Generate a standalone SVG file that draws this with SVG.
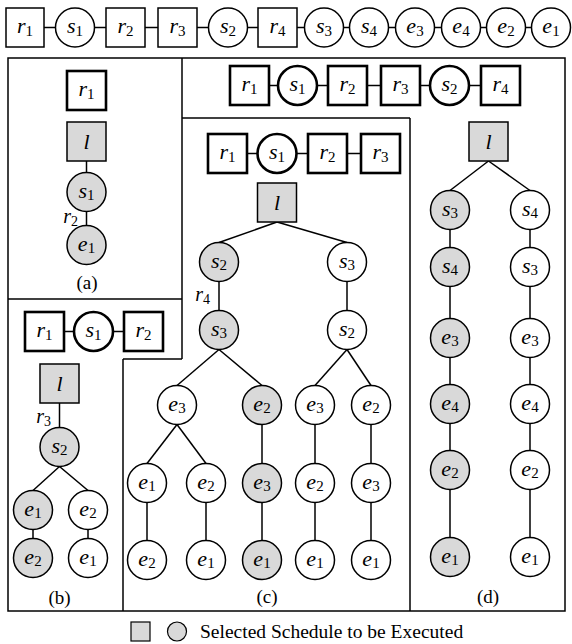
<svg xmlns="http://www.w3.org/2000/svg" width="572" height="644" viewBox="0 0 572 644">
<style>
.n{fill:#fff;stroke:#000;stroke-width:1.5}
.b{stroke-width:2.6}
.g{fill:#d9d9d9}
.t{font-family:'Liberation Serif','Times New Roman','DejaVu Serif',serif;font-size:22px;font-style:italic;text-anchor:middle}
.s{font-size:15px;font-style:normal}
.el{font-family:'Liberation Serif','Times New Roman','DejaVu Serif',serif;font-size:20px;font-style:italic;text-anchor:end}
.es{font-size:14px;font-style:normal}
.cap{font-family:'Liberation Serif','Times New Roman','DejaVu Serif',serif;font-size:19px;text-anchor:middle}
.leg{font-family:'Liberation Serif','Times New Roman','DejaVu Serif',serif;font-size:19.5px}
.c line,.f line,.f rect{stroke:#000;stroke-width:1.5;fill:none}
</style>
<rect width="572" height="644" fill="#fff"/>
<g id="frames" class="f">
<rect x="8" y="58" width="557" height="553"/>
<line x1="182" y1="58" x2="182" y2="359"/>
<line x1="8" y1="299" x2="182" y2="299"/>
<line x1="123" y1="359" x2="182" y2="359"/>
<line x1="123" y1="359" x2="123" y2="611"/>
<line x1="182" y1="118" x2="410" y2="118"/>
<line x1="410" y1="118" x2="410" y2="611"/>
</g>
<g id="connectors" class="c">
<line x1="44" y1="27.5" x2="55.5" y2="27.5"/><line x1="94.5" y1="27.5" x2="106" y2="27.5"/><line x1="145" y1="27.5" x2="158" y2="27.5"/><line x1="197" y1="27.5" x2="208.5" y2="27.5"/><line x1="247.5" y1="27.5" x2="258" y2="27.5"/><line x1="297" y1="27.5" x2="304.5" y2="27.5"/><line x1="343.5" y1="27.5" x2="349.5" y2="27.5"/><line x1="388.5" y1="27.5" x2="395.5" y2="27.5"/><line x1="434.5" y1="27.5" x2="441.5" y2="27.5"/><line x1="480.5" y1="27.5" x2="486.5" y2="27.5"/><line x1="525.5" y1="27.5" x2="531.5" y2="27.5"/>
<line x1="86.5" y1="161" x2="86.5" y2="172.5"/><line x1="86.5" y1="211.5" x2="86.5" y2="225.5"/>
<line x1="64" y1="331.5" x2="74" y2="331.5"/><line x1="113" y1="331.5" x2="124" y2="331.5"/>
<line x1="59.5" y1="403" x2="59.5" y2="427.5"/>
<line x1="59.5" y1="466.5" x2="33" y2="490.5"/><line x1="59.5" y1="466.5" x2="88" y2="490.5"/>
<line x1="33" y1="529.5" x2="33" y2="538.5"/><line x1="88" y1="529.5" x2="88" y2="538.5"/>
<line x1="247" y1="153.5" x2="257.5" y2="153.5"/><line x1="296.5" y1="153.5" x2="308" y2="153.5"/><line x1="347" y1="153.5" x2="361" y2="153.5"/>
<line x1="277" y1="222" x2="219" y2="242.5"/><line x1="277" y1="222" x2="347" y2="242.5"/>
<line x1="219" y1="281.5" x2="219" y2="310.5"/><line x1="347" y1="281.5" x2="347" y2="310.5"/>
<line x1="219" y1="349.5" x2="177" y2="385.5"/><line x1="219" y1="349.5" x2="262" y2="385.5"/><line x1="347" y1="349.5" x2="315" y2="385.5"/><line x1="347" y1="349.5" x2="371" y2="385.5"/>
<line x1="177" y1="424.5" x2="147" y2="463.5"/><line x1="177" y1="424.5" x2="206" y2="463.5"/><line x1="262" y1="424.5" x2="262" y2="463.5"/><line x1="315" y1="424.5" x2="315" y2="463.5"/><line x1="371" y1="424.5" x2="371" y2="463.5"/>
<line x1="147" y1="502.5" x2="147" y2="540.5"/><line x1="206" y1="502.5" x2="206" y2="540.5"/><line x1="262" y1="502.5" x2="262" y2="540.5"/><line x1="315" y1="502.5" x2="315" y2="540.5"/><line x1="371" y1="502.5" x2="371" y2="540.5"/>
<line x1="269" y1="85.5" x2="278" y2="85.5"/><line x1="317" y1="85.5" x2="328" y2="85.5"/><line x1="367" y1="85.5" x2="381" y2="85.5"/><line x1="420" y1="85.5" x2="430" y2="85.5"/><line x1="469" y1="85.5" x2="481" y2="85.5"/>
<line x1="488.5" y1="161" x2="450" y2="190.5"/><line x1="488.5" y1="161" x2="530" y2="190.5"/>
<line x1="450" y1="229.5" x2="450" y2="247.5"/><line x1="450" y1="286.5" x2="450" y2="318.5"/><line x1="450" y1="357.5" x2="450" y2="384.5"/><line x1="450" y1="423.5" x2="450" y2="450.5"/><line x1="450" y1="489.5" x2="450" y2="537.5"/>
<line x1="530" y1="229.5" x2="530" y2="247.5"/><line x1="530" y1="286.5" x2="530" y2="318.5"/><line x1="530" y1="357.5" x2="530" y2="384.5"/><line x1="530" y1="423.5" x2="530" y2="450.5"/><line x1="530" y1="489.5" x2="530" y2="537.5"/>
</g>
<g id="top-row">
<g id="t_r1"><rect class="n" x="6" y="8" width="38" height="39"/><text class="t" x="25" y="33">r<tspan class="s" dy="2.5">1</tspan></text></g>
<g id="t_s1"><circle class="n" cx="75" cy="27.5" r="19.5"/><text class="t" x="75" y="33">s<tspan class="s" dy="2.5">1</tspan></text></g>
<g id="t_r2"><rect class="n" x="106" y="8" width="39" height="39"/><text class="t" x="125.5" y="33">r<tspan class="s" dy="2.5">2</tspan></text></g>
<g id="t_r3"><rect class="n" x="158" y="8" width="39" height="39"/><text class="t" x="177.5" y="33">r<tspan class="s" dy="2.5">3</tspan></text></g>
<g id="t_s2"><circle class="n" cx="228" cy="27.5" r="19.5"/><text class="t" x="228" y="33">s<tspan class="s" dy="2.5">2</tspan></text></g>
<g id="t_r4"><rect class="n" x="258" y="8" width="39" height="39"/><text class="t" x="277.5" y="33">r<tspan class="s" dy="2.5">4</tspan></text></g>
<g id="t_s3"><circle class="n" cx="324" cy="27.5" r="19.5"/><text class="t" x="324" y="33">s<tspan class="s" dy="2.5">3</tspan></text></g>
<g id="t_s4"><circle class="n" cx="369" cy="27.5" r="19.5"/><text class="t" x="369" y="33">s<tspan class="s" dy="2.5">4</tspan></text></g>
<g id="t_e3"><circle class="n" cx="415" cy="27.5" r="19.5"/><text class="t" x="415" y="33">e<tspan class="s" dy="2.5">3</tspan></text></g>
<g id="t_e4"><circle class="n" cx="461" cy="27.5" r="19.5"/><text class="t" x="461" y="33">e<tspan class="s" dy="2.5">4</tspan></text></g>
<g id="t_e2"><circle class="n" cx="506" cy="27.5" r="19.5"/><text class="t" x="506" y="33">e<tspan class="s" dy="2.5">2</tspan></text></g>
<g id="t_e1"><circle class="n" cx="551" cy="27.5" r="19.5"/><text class="t" x="551" y="33">e<tspan class="s" dy="2.5">1</tspan></text></g>
</g>
<g id="panel-a">
<g id="a_r1"><rect class="n b" x="67" y="71" width="39" height="39"/><text class="t" x="86.5" y="96">r<tspan class="s" dy="2.5">1</tspan></text></g>
<g id="a_l"><rect class="n g" x="67" y="122" width="39" height="39"/><text class="t" x="86.5" y="149">l</text></g>
<g id="a_s1"><circle class="n g" cx="86.5" cy="192" r="19.5"/><text class="t" x="86.5" y="197.5">s<tspan class="s" dy="2.5">1</tspan></text></g>
<g id="a_e1"><circle class="n g" cx="86.5" cy="245" r="19.5"/><text class="t" x="86.5" y="250.5">e<tspan class="s" dy="2.5">1</tspan></text></g>
<text class="el" x="78" y="223">r<tspan class="es" dy="2.5">2</tspan></text>
<text class="cap" x="87" y="289">(a)</text>
</g>
<g id="panel-b">
<g id="b_r1"><rect class="n b" x="25" y="312" width="39" height="39"/><text class="t" x="44.5" y="337">r<tspan class="s" dy="2.5">1</tspan></text></g>
<g id="b_s1"><circle class="n b" cx="93.5" cy="331.5" r="19.5"/><text class="t" x="93.5" y="337">s<tspan class="s" dy="2.5">1</tspan></text></g>
<g id="b_r2"><rect class="n b" x="124" y="312" width="39" height="39"/><text class="t" x="143.5" y="337">r<tspan class="s" dy="2.5">2</tspan></text></g>
<g id="b_l"><rect class="n g" x="40" y="364" width="39" height="39"/><text class="t" x="59.5" y="391">l</text></g>
<text class="el" x="51" y="423">r<tspan class="es" dy="2.5">3</tspan></text>
<g id="b_s2"><circle class="n g" cx="59.5" cy="447" r="19.5"/><text class="t" x="59.5" y="452.5">s<tspan class="s" dy="2.5">2</tspan></text></g>
<g id="b_e1"><circle class="n g" cx="33" cy="510" r="19.5"/><text class="t" x="33" y="515.5">e<tspan class="s" dy="2.5">1</tspan></text></g>
<g id="b_e2"><circle class="n" cx="88" cy="510" r="19.5"/><text class="t" x="88" y="515.5">e<tspan class="s" dy="2.5">2</tspan></text></g>
<g id="b_e2b"><circle class="n g" cx="33" cy="558" r="19.5"/><text class="t" x="33" y="563.5">e<tspan class="s" dy="2.5">2</tspan></text></g>
<g id="b_e1b"><circle class="n" cx="88" cy="558" r="19.5"/><text class="t" x="88" y="563.5">e<tspan class="s" dy="2.5">1</tspan></text></g>
<text class="cap" x="59.5" y="604">(b)</text>
</g>
<g id="panel-c">
<g id="c_r1"><rect class="n b" x="208" y="134" width="39" height="39"/><text class="t" x="227.5" y="159">r<tspan class="s" dy="2.5">1</tspan></text></g>
<g id="c_s1"><circle class="n b" cx="277" cy="153.5" r="19.5"/><text class="t" x="277" y="159">s<tspan class="s" dy="2.5">1</tspan></text></g>
<g id="c_r2"><rect class="n b" x="308" y="134" width="39" height="39"/><text class="t" x="327.5" y="159">r<tspan class="s" dy="2.5">2</tspan></text></g>
<g id="c_r3"><rect class="n b" x="361" y="134" width="39" height="39"/><text class="t" x="380.5" y="159">r<tspan class="s" dy="2.5">3</tspan></text></g>
<g id="c_l"><rect class="n g" x="257.5" y="183" width="39" height="39"/><text class="t" x="277" y="210">l</text></g>
<g id="c_s2"><circle class="n g" cx="219" cy="262" r="19.5"/><text class="t" x="219" y="267.5">s<tspan class="s" dy="2.5">2</tspan></text></g>
<g id="c_s3"><circle class="n" cx="347" cy="262" r="19.5"/><text class="t" x="347" y="267.5">s<tspan class="s" dy="2.5">3</tspan></text></g>
<text class="el" x="210" y="301">r<tspan class="es" dy="2.5">4</tspan></text>
<g id="c_s3b"><circle class="n g" cx="219" cy="330" r="19.5"/><text class="t" x="219" y="335.5">s<tspan class="s" dy="2.5">3</tspan></text></g>
<g id="c_s2b"><circle class="n" cx="347" cy="330" r="19.5"/><text class="t" x="347" y="335.5">s<tspan class="s" dy="2.5">2</tspan></text></g>
<g id="c_e3a"><circle class="n" cx="177" cy="405" r="19.5"/><text class="t" x="177" y="410.5">e<tspan class="s" dy="2.5">3</tspan></text></g>
<g id="c_e2a"><circle class="n g" cx="262" cy="405" r="19.5"/><text class="t" x="262" y="410.5">e<tspan class="s" dy="2.5">2</tspan></text></g>
<g id="c_e3b"><circle class="n" cx="315" cy="405" r="19.5"/><text class="t" x="315" y="410.5">e<tspan class="s" dy="2.5">3</tspan></text></g>
<g id="c_e2b"><circle class="n" cx="371" cy="405" r="19.5"/><text class="t" x="371" y="410.5">e<tspan class="s" dy="2.5">2</tspan></text></g>
<g id="c_e1a"><circle class="n" cx="147" cy="483" r="19.5"/><text class="t" x="147" y="488.5">e<tspan class="s" dy="2.5">1</tspan></text></g>
<g id="c_e2c"><circle class="n" cx="206" cy="483" r="19.5"/><text class="t" x="206" y="488.5">e<tspan class="s" dy="2.5">2</tspan></text></g>
<g id="c_e3c"><circle class="n g" cx="262" cy="483" r="19.5"/><text class="t" x="262" y="488.5">e<tspan class="s" dy="2.5">3</tspan></text></g>
<g id="c_e2d"><circle class="n" cx="315" cy="483" r="19.5"/><text class="t" x="315" y="488.5">e<tspan class="s" dy="2.5">2</tspan></text></g>
<g id="c_e3d"><circle class="n" cx="371" cy="483" r="19.5"/><text class="t" x="371" y="488.5">e<tspan class="s" dy="2.5">3</tspan></text></g>
<g id="c_e2e"><circle class="n" cx="147" cy="560" r="19.5"/><text class="t" x="147" y="565.5">e<tspan class="s" dy="2.5">2</tspan></text></g>
<g id="c_e1b"><circle class="n" cx="206" cy="560" r="19.5"/><text class="t" x="206" y="565.5">e<tspan class="s" dy="2.5">1</tspan></text></g>
<g id="c_e1c"><circle class="n g" cx="262" cy="560" r="19.5"/><text class="t" x="262" y="565.5">e<tspan class="s" dy="2.5">1</tspan></text></g>
<g id="c_e1d"><circle class="n" cx="315" cy="560" r="19.5"/><text class="t" x="315" y="565.5">e<tspan class="s" dy="2.5">1</tspan></text></g>
<g id="c_e1e"><circle class="n" cx="371" cy="560" r="19.5"/><text class="t" x="371" y="565.5">e<tspan class="s" dy="2.5">1</tspan></text></g>
<text class="cap" x="267" y="603">(c)</text>
</g>
<g id="panel-d">
<g id="d_r1"><rect class="n b" x="230" y="66" width="39" height="39"/><text class="t" x="249.5" y="91">r<tspan class="s" dy="2.5">1</tspan></text></g>
<g id="d_s1"><circle class="n b" cx="297.5" cy="85.5" r="19.5"/><text class="t" x="297.5" y="91">s<tspan class="s" dy="2.5">1</tspan></text></g>
<g id="d_r2"><rect class="n b" x="328" y="66" width="39" height="39"/><text class="t" x="347.5" y="91">r<tspan class="s" dy="2.5">2</tspan></text></g>
<g id="d_r3"><rect class="n b" x="381" y="66" width="39" height="39"/><text class="t" x="400.5" y="91">r<tspan class="s" dy="2.5">3</tspan></text></g>
<g id="d_s2"><circle class="n b" cx="449.5" cy="85.5" r="19.5"/><text class="t" x="449.5" y="91">s<tspan class="s" dy="2.5">2</tspan></text></g>
<g id="d_r4"><rect class="n b" x="481" y="66" width="39" height="39"/><text class="t" x="500.5" y="91">r<tspan class="s" dy="2.5">4</tspan></text></g>
<g id="d_l"><rect class="n g" x="469" y="122" width="39" height="39"/><text class="t" x="488.5" y="149">l</text></g>
<g id="d_s3a"><circle class="n g" cx="450" cy="210" r="19.5"/><text class="t" x="450" y="215.5">s<tspan class="s" dy="2.5">3</tspan></text></g>
<g id="d_s4a"><circle class="n g" cx="450" cy="267" r="19.5"/><text class="t" x="450" y="272.5">s<tspan class="s" dy="2.5">4</tspan></text></g>
<g id="d_e3a"><circle class="n g" cx="450" cy="338" r="19.5"/><text class="t" x="450" y="343.5">e<tspan class="s" dy="2.5">3</tspan></text></g>
<g id="d_e4a"><circle class="n g" cx="450" cy="404" r="19.5"/><text class="t" x="450" y="409.5">e<tspan class="s" dy="2.5">4</tspan></text></g>
<g id="d_e2a"><circle class="n g" cx="450" cy="470" r="19.5"/><text class="t" x="450" y="475.5">e<tspan class="s" dy="2.5">2</tspan></text></g>
<g id="d_e1a"><circle class="n g" cx="450" cy="557" r="19.5"/><text class="t" x="450" y="562.5">e<tspan class="s" dy="2.5">1</tspan></text></g>
<g id="d_s4b"><circle class="n" cx="530" cy="210" r="19.5"/><text class="t" x="530" y="215.5">s<tspan class="s" dy="2.5">4</tspan></text></g>
<g id="d_s3b"><circle class="n" cx="530" cy="267" r="19.5"/><text class="t" x="530" y="272.5">s<tspan class="s" dy="2.5">3</tspan></text></g>
<g id="d_e3b"><circle class="n" cx="530" cy="338" r="19.5"/><text class="t" x="530" y="343.5">e<tspan class="s" dy="2.5">3</tspan></text></g>
<g id="d_e4b"><circle class="n" cx="530" cy="404" r="19.5"/><text class="t" x="530" y="409.5">e<tspan class="s" dy="2.5">4</tspan></text></g>
<g id="d_e2b"><circle class="n" cx="530" cy="470" r="19.5"/><text class="t" x="530" y="475.5">e<tspan class="s" dy="2.5">2</tspan></text></g>
<g id="d_e1b"><circle class="n" cx="530" cy="557" r="19.5"/><text class="t" x="530" y="562.5">e<tspan class="s" dy="2.5">1</tspan></text></g>
<text class="cap" x="488" y="603">(d)</text>
</g>
<g id="legend">
<rect class="n g" x="131" y="622" width="19" height="19" style="stroke-width:1.2"/>
<circle class="n g" cx="177" cy="631.5" r="9.5" style="stroke-width:1.2"/>
<text class="leg" x="200" y="638">Selected Schedule to be Executed</text>
</g>
</svg>
